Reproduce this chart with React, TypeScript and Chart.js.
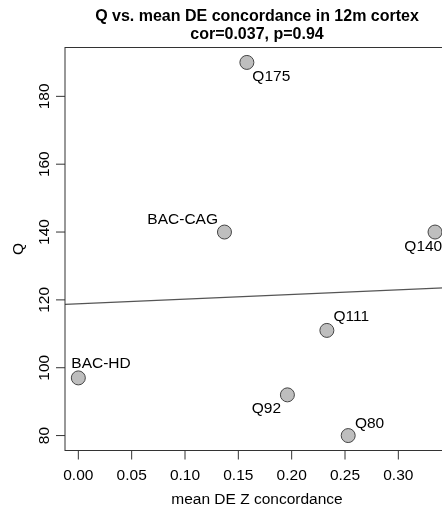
import React, { useEffect, useRef } from "react";
import { Chart, registerables } from "chart.js";

Chart.register(...registerables);

// ---- data ----
const SAMPLES = ["BAC-HD", "BAC-CAG", "Q80", "Q92", "Q111", "Q140", "Q175"];
const CONCORDANCE = [0.0, 0.137, 0.253, 0.196, 0.233, 0.3344, 0.158];
const Q_VALUES = [97, 140, 80, 92, 111, 140, 190];
const X_TICKS = [0, 0.05, 0.1, 0.15, 0.2, 0.25, 0.3];
const Y_TICKS = [80, 100, 120, 140, 160, 180];
const TITLE_LINES = ["Q vs. mean DE concordance in 12m cortex", "cor=0.037, p=0.94"];
const X_TITLE = "mean DE Z concordance";
const Y_TITLE = "Q";

// axis limits (R-style 4% extension)
const X_MIN = -0.0125;
const X_MAX = 0.3475;
const Y_MIN = 75.6;
const Y_MAX = 194.4;

// label placement style (dx, dy to label centre line; align)
const LABEL_STYLE: { dx: number; dy: number; align: CanvasTextAlign }[] = [
  { dx: -7, dy: -14, align: "left" },
  { dx: -6.5, dy: -12.5, align: "right" },
  { dx: 6.7, dy: -11.7, align: "left" },
  { dx: -6.3, dy: 14, align: "right" },
  { dx: 6.6, dy: -13.4, align: "left" },
  { dx: -30.7, dy: 15, align: "left" },
  { dx: 5.5, dy: 14.5, align: "left" },
];

const FONT = "'Liberation Sans', Arial, Helvetica, sans-serif";
const CANVAS_W = 470;
const CANVAS_H = 506;

function linearFit(xs: number[], ys: number[]) {
  const n = xs.length;
  const mx = xs.reduce((a, b) => a + b, 0) / n;
  const my = ys.reduce((a, b) => a + b, 0) / n;
  let sxy = 0;
  let sxx = 0;
  for (let i = 0; i < n; i++) {
    sxy += (xs[i] - mx) * (ys[i] - my);
    sxx += (xs[i] - mx) * (xs[i] - mx);
  }
  const slope = sxy / sxx;
  return { slope, intercept: my - slope * mx };
}

const rPlotPlugin = {
  id: "rPlot",
  afterDraw(chart: any) {
    const ctx = chart.ctx as CanvasRenderingContext2D;
    const area = chart.chartArea;
    const xs = chart.scales.x;
    const ys = chart.scales.y;
    ctx.save();
    // box
    ctx.strokeStyle = "#333";
    ctx.lineWidth = 1;
    ctx.strokeRect(area.left, area.top, area.right - area.left, area.bottom - area.top);

    ctx.fillStyle = "#000";
    // x ticks
    ctx.font = `15.5px ${FONT}`;
    ctx.textAlign = "center";
    ctx.textBaseline = "middle";
    X_TICKS.forEach((v) => {
      const px = xs.getPixelForValue(v);
      ctx.beginPath();
      ctx.moveTo(px, area.bottom);
      ctx.lineTo(px, area.bottom + 9);
      ctx.stroke();
      ctx.fillText(v.toFixed(2), px, area.bottom + 25);
    });
    // y ticks
    Y_TICKS.forEach((v) => {
      const py = ys.getPixelForValue(v);
      ctx.beginPath();
      ctx.moveTo(area.left, py);
      ctx.lineTo(area.left - 9, py);
      ctx.stroke();
      ctx.save();
      ctx.translate(area.left - 20, py);
      ctx.rotate(-Math.PI / 2);
      ctx.fillText(String(v), 0, 0);
      ctx.restore();
    });
    // axis titles
    ctx.fillText(X_TITLE, (area.left + area.right) / 2, area.bottom + 49);
    ctx.save();
    ctx.translate(19, (area.top + area.bottom) / 2);
    ctx.rotate(-Math.PI / 2);
    ctx.fillText(Y_TITLE, 0, 0);
    ctx.restore();

    // main title
    ctx.font = `bold 16px ${FONT}`;
    const cx = (area.left + area.right) / 2;
    ctx.fillText(TITLE_LINES[0], cx, 17);
    ctx.fillText(TITLE_LINES[1], cx, 35);

    // point labels
    ctx.font = `15.5px ${FONT}`;
    const meta = chart.getDatasetMeta(1);
    meta.data.forEach((pt: any, i: number) => {
      const st = LABEL_STYLE[i];
      ctx.textAlign = st.align;
      ctx.fillText(SAMPLES[i], pt.x + st.dx, pt.y + st.dy);
    });
    ctx.restore();
  },
};

export default function App() {
  const ref = useRef<HTMLCanvasElement | null>(null);
  useEffect(() => {
    if (!ref.current) return;
    const fit = linearFit(CONCORDANCE, Q_VALUES);
    const chart = new Chart(ref.current, {
      type: "scatter",
      data: {
        datasets: [
          {
            type: "line",
            data: [
              { x: X_MIN, y: fit.intercept + fit.slope * X_MIN },
              { x: X_MAX, y: fit.intercept + fit.slope * X_MAX },
            ],
            borderColor: "#555",
            borderWidth: 1.2,
            pointRadius: 0,
            fill: false,
          } as any,
          {
            data: CONCORDANCE.map((x, i) => ({ x, y: Q_VALUES[i] })),
            backgroundColor: "#bebebe",
            borderColor: "#444",
            borderWidth: 1,
            pointRadius: 7,
          },
        ],
      },
      options: {
        responsive: false,
        animation: false,
        devicePixelRatio: 1,
        layout: { padding: { left: 65, top: 47.5, right: CANVAS_W - 449, bottom: CANVAS_H - 450.5 } },
        plugins: { legend: { display: false }, tooltip: { enabled: false }, title: { display: false } },
        scales: {
          x: { type: "linear", min: X_MIN, max: X_MAX, display: false },
          y: { type: "linear", min: Y_MIN, max: Y_MAX, display: false },
        },
      },
      plugins: [rPlotPlugin],
    });
    return () => chart.destroy();
  }, []);
  return (
    <div
      style={{
        position: "fixed",
        left: 0,
        top: 0,
        width: 442,
        height: 506,
        overflow: "hidden",
        background: "#fff",
      }}
    >
      <canvas ref={ref} width={CANVAS_W} height={CANVAS_H} style={{ display: "block" }} />
    </div>
  );
}
